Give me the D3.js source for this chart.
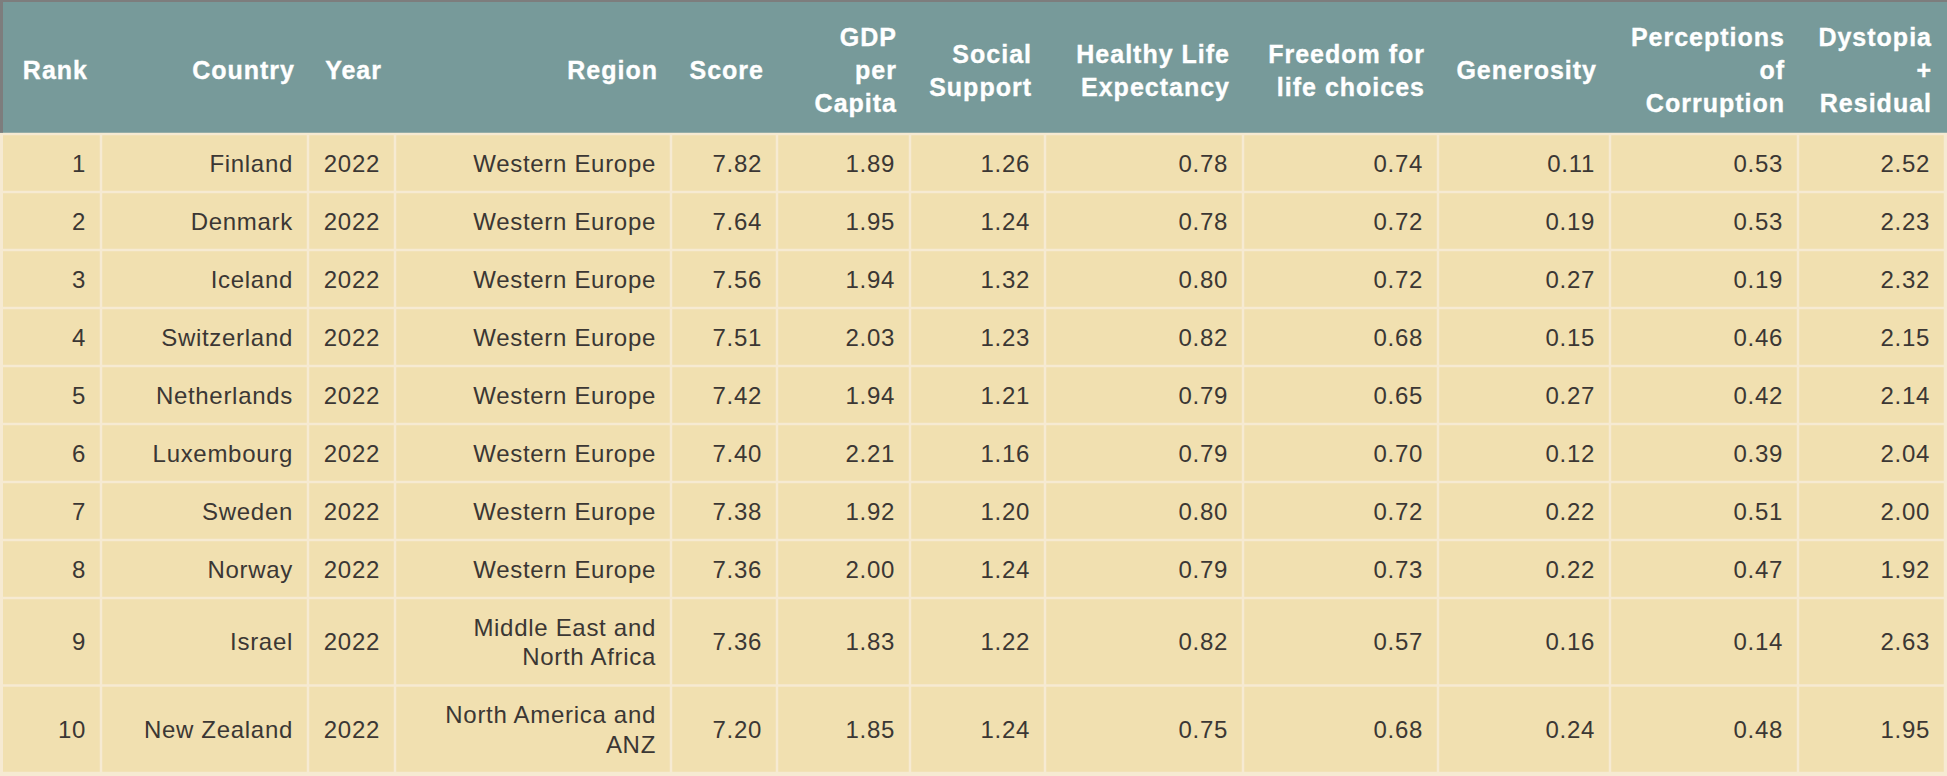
<!DOCTYPE html>
<html>
<head>
<meta charset="utf-8">
<style>
  html, body { margin: 0; padding: 0; background: #ffffff; }
  svg { display: block; }
  text { font-family: "Liberation Sans", Arial, Helvetica, sans-serif; }
</style>
</head>
<body>
<script src="https://cdn.jsdelivr.net/npm/d3@7"></script>
<script>
// ---- data ----
var ranks       = [1, 2, 3, 4, 5, 6, 7, 8, 9, 10];
var countries   = ["Finland", "Denmark", "Iceland", "Switzerland", "Netherlands",
                   "Luxembourg", "Sweden", "Norway", "Israel", "New Zealand"];
var years       = [2022, 2022, 2022, 2022, 2022, 2022, 2022, 2022, 2022, 2022];
var regions     = ["Western Europe", "Western Europe", "Western Europe", "Western Europe",
                   "Western Europe", "Western Europe", "Western Europe", "Western Europe",
                   "Middle East and North Africa", "North America and ANZ"];
var scores      = [7.82, 7.64, 7.56, 7.51, 7.42, 7.40, 7.38, 7.36, 7.36, 7.20];
var gdp         = [1.89, 1.95, 1.94, 2.03, 1.94, 2.21, 1.92, 2.00, 1.83, 1.85];
var social      = [1.26, 1.24, 1.32, 1.23, 1.21, 1.16, 1.20, 1.24, 1.22, 1.24];
var health      = [0.78, 0.78, 0.80, 0.82, 0.79, 0.79, 0.80, 0.79, 0.82, 0.75];
var freedom     = [0.74, 0.72, 0.72, 0.68, 0.65, 0.70, 0.72, 0.73, 0.57, 0.68];
var generosity  = [0.11, 0.19, 0.27, 0.15, 0.27, 0.12, 0.22, 0.22, 0.16, 0.24];
var corruption  = [0.53, 0.53, 0.19, 0.46, 0.42, 0.39, 0.51, 0.47, 0.14, 0.48];
var dystopia    = [2.52, 2.23, 2.32, 2.15, 2.14, 2.04, 2.00, 1.92, 2.63, 1.95];

var headers = [["Rank"], ["Country"], ["Year"], ["Region"], ["Score"],
               ["GDP", "per", "Capita"], ["Social", "Support"],
               ["Healthy Life", "Expectancy"], ["Freedom for", "life choices"],
               ["Generosity"], ["Perceptions", "of", "Corruption"],
               ["Dystopia", "+", "Residual"]];

// ---- layout ----
var width = 1947, height = 776;
var colWidths = [101, 207, 87, 276, 106, 133, 135, 198, 195, 172, 188, 147];
var headerH = 134, rowH = 58, extraLineH = 29.5, lineW = 2.5;
var fontSize = 24, headSize = 25, lineGap = 29.3, headGap = 33;
var font = '"Liberation Sans", Arial, Helvetica, sans-serif';

var f2 = d3.format(".2f");
var rows = ranks.map(function (r, i) {
    return [String(r), countries[i], String(years[i]), regions[i],
            f2(scores[i]), f2(gdp[i]), f2(social[i]), f2(health[i]),
            f2(freedom[i]), f2(generosity[i]), f2(corruption[i]), f2(dystopia[i])];
});

var colIdx = d3.range(colWidths.length);
var edges = [0].concat(Array.from(d3.cumsum(colWidths)));
var xLeft = d3.scaleOrdinal().domain(colIdx).range(edges.slice(0, -1));
var xRight = d3.scaleOrdinal().domain(colIdx).range(edges.slice(1));

var svg = d3.select('body').append('svg')
    .attr('width', width).attr('height', height)
    .attr('font-family', font);

// grid colour under everything
svg.append('rect').attr('x', 0).attr('y', 0).attr('width', width).attr('height', height)
    .attr('fill', '#f6ead2');

// header band
svg.append('rect').attr('x', 0).attr('y', 0).attr('width', width).attr('height', headerH - lineW / 2)
    .attr('fill', '#779a9a');

// header labels
colIdx.forEach(function (j) {
    var lines = headers[j];
    var t = svg.append('text')
        .attr('text-anchor', 'end')
        .attr('font-size', headSize)
        .attr('font-weight', 'bold')
        .attr('letter-spacing', 1.0)
        .attr('fill', '#ffffff')
        .attr('stroke', '#ffffff')
        .attr('stroke-width', 0.35);
    var mid = 70 + headSize * 0.36 - (lines.length - 1) * headGap / 2;
    lines.forEach(function (s, k) {
        t.append('tspan').attr('x', xRight(j) - 13).attr('y', mid + k * headGap).text(s);
    });
});

// body text first (to wrap and measure)
var maxTextW = function (j) { return colWidths[j] - 30; };
var cellText = [];
rows.forEach(function (row, i) {
    cellText[i] = row.map(function (val, j) {
        var t = svg.append('text')
            .attr('text-anchor', 'end')
            .attr('font-size', fontSize)
            .attr('letter-spacing', 0.7)
            .attr('fill', '#3b3734');
        var words = val.split(' '), lines = [], cur = [];
        words.forEach(function (w) {
            var test = cur.concat([w]).join(' ');
            t.text(test);
            if (cur.length && t.node().getComputedTextLength() > maxTextW(j)) {
                lines.push(cur.join(' '));
                cur = [w];
            } else {
                cur.push(w);
            }
        });
        lines.push(cur.join(' '));
        t.text(null);
        return { node: t, lines: lines };
    });
});

var rowHeights = cellText.map(function (cells) {
    var n = d3.max(cells, function (c) { return c.lines.length; });
    return rowH + (n - 1) * extraLineH;
});
var rowTops = [headerH].concat(Array.from(d3.cumsum(rowHeights), function (v) { return headerH + v; }));
var yTop = d3.scaleOrdinal().domain(d3.range(rows.length)).range(rowTops);

// cells
rows.forEach(function (row, i) {
    var h = rowHeights[i];
    colIdx.forEach(function (j) {
        svg.insert('rect', 'text')
            .attr('x', xLeft(j) + (j === 0 ? 0 : lineW / 2))
            .attr('y', yTop(i) + lineW / 2)
            .attr('width', colWidths[j] - (j === 0 ? lineW / 2 : lineW))
            .attr('height', h - lineW)
            .attr('fill', '#f1e0b0');
        var c = cellText[i][j];
        var mid = yTop(i) + h / 2 + fontSize * 0.36 - (c.lines.length - 1) * lineGap / 2;
        c.lines.forEach(function (s, k) {
            c.node.append('tspan').attr('x', xRight(j) - 15).attr('y', mid + k * lineGap).text(s);
        });
    });
});

// grey frame on top and left
svg.append('rect').attr('x', 0).attr('y', 0).attr('width', width).attr('height', 2).attr('fill', '#7d7d7d');
svg.append('rect').attr('x', 0).attr('y', 0).attr('width', 3).attr('height', headerH - lineW / 2).attr('fill', '#7d7d7d');
svg.append('rect').attr('x', 0).attr('y', headerH).attr('width', 3).attr('height', height - headerH).attr('fill', '#f6ead2');
</script>
</body>
</html>
